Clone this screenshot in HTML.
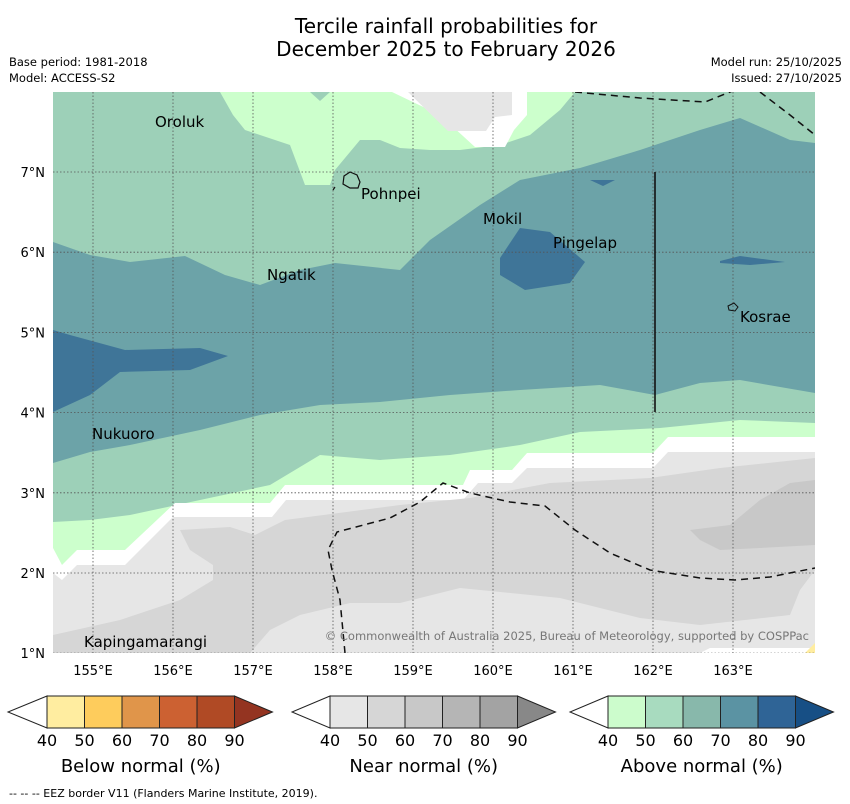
<!DOCTYPE html>
<html><head><meta charset="utf-8"><style>
body{margin:0;background:#fff;font-family:"Liberation Sans","DejaVu Sans",sans-serif}
svg{display:block}
</style></head><body>
<svg id="chart" width="850" height="804" viewBox="0 0 850 804" font-family="DejaVu Sans, Liberation Sans, sans-serif">
<rect width="850" height="804" fill="#fff"/>
<text x="446" y="33" font-size="20" text-anchor="middle">Tercile rainfall probabilities for</text>
<text x="446" y="56" font-size="20" text-anchor="middle">December 2025 to February 2026</text>
<text x="9" y="66" font-size="11.5">Base period: 1981-2018</text>
<text x="9" y="82" font-size="11.5">Model: ACCESS-S2</text>
<text x="842" y="66" font-size="11.5" text-anchor="end">Model run: 25/10/2025</text>
<text x="842" y="82" font-size="11.5" text-anchor="end">Issued: 27/10/2025</text>
<defs><clipPath id="mapclip"><rect x="53" y="92" width="762" height="561"/></clipPath></defs>
<g id="map" clip-path="url(#mapclip)">
<rect x="53" y="92" width="762" height="561" fill="#9dd0b8"/>
<path fill="#6ca3a8" d="M53,242 L90,255 130,262 185,256 225,275 260,285 300,270 335,263 400,270 430,240 480,205 520,180 580,168 640,150 700,130 740,118 790,140 815,143 L815,393 740,380 700,383 655,395 600,385 520,390 450,395 380,402 320,405 260,415 200,430 130,445 90,452 53,463Z"/>
<path fill="#3f7598" d="M53,330 L70,335 125,350 200,348 228,356 190,370 120,372 90,395 53,412Z"/>
<path fill="#3f7598" d="M520,228 L550,232 585,262 570,283 525,290 500,275 500,258Z"/>
<path fill="#3f7598" d="M590,180 L615,180 603,186Z"/>
<path fill="#3f7598" d="M720,261 L740,256 785,262 750,265 720,263Z"/>
<path fill="#ccffcc" d="M220,92 L575,92 560,110 530,135 500,145 460,150 430,150 400,148 380,140 360,140 335,170 330,185 305,185 290,145 260,135 245,130 233,115Z"/>
<path fill="#9dd0b8" d="M310,92 L330,92 320,101Z"/>
<path fill="#fff" d="M392,92 L527,92 527,115 514,130 505,147 475,147 440,115Z"/>
<path fill="#e6e6e6" d="M408,92 L512,92 512,115 495,117 486,131 448,131Z"/>
<path fill="#ccffcc" d="M53,522 L90,520 130,515 200,500 270,485 320,455 380,460 450,455 520,445 580,432 660,428 740,420 815,423 L815,653 53,653Z"/>
<path fill="#fff" d="M53,548 L62,565 77,550 125,550 175,503 270,503 285,485 463,485 470,470 512,470 527,453 653,453 668,437 815,437 L815,653 53,653Z"/>
<path fill="#e6e6e6" d="M53,573 L62,580 77,565 125,565 173,517 272,517 286,500 463,500 478,483 512,483 527,468 653,468 668,452 815,452 L815,653 53,653Z"/>
<path fill="#d6d6d6" d="M180,530 L230,527 255,535 285,520 400,505 470,498 550,483 650,478 720,468 815,458 L815,570 800,590 790,615 700,625 640,618 560,598 460,588 400,603 350,603 300,615 270,630 250,653 53,653 53,635 120,620 180,600 213,580 213,565 190,550Z"/>
<path fill="#c8c8c8" d="M690,530 L730,525 760,500 790,483 815,480 815,545 760,548 720,550 700,540Z"/>
<path fill="#fff" d="M700,653 L710,648 815,648 815,653Z"/>
<path fill="#ffeda0" d="M805,653 L815,643 815,653Z"/>
<g id="grid"></g>
<path fill="none" stroke="#111" stroke-width="1.5" stroke-dasharray="7,5" d="M575,92 L640,98 705,102 735,90 M760,92 L790,115 815,135"/>
<path fill="none" stroke="#111" stroke-width="1.5" stroke-dasharray="7,5" d="M345,653 L340,600 332,570 328,550 337,532 390,518 420,502 443,483 470,493 510,502 545,506 575,530 610,553 650,570 700,578 735,580 770,577 815,568"/>
<line x1="655" y1="172" x2="655" y2="412" stroke="#111" stroke-width="1.6"/>
<path fill="none" stroke="#111" stroke-width="1.2" d="M344,176 L350,172 357,175 360,182 358,188 350,188 343,184Z M333,190 L335,187"/>
<path fill="none" stroke="#111" stroke-width="1" d="M728,306 L734,303 738,307 735,311 729,310Z"/>
<g font-size="15" fill="#000">
<text x="155" y="127">Oroluk</text>
<text x="361" y="199">Pohnpei</text>
<text x="483" y="224">Mokil</text>
<text x="553" y="248">Pingelap</text>
<text x="267" y="280">Ngatik</text>
<text x="740" y="322">Kosrae</text>
<text x="92" y="439">Nukuoro</text>
<text x="84" y="647">Kapingamarangi</text>
</g>
<text x="809" y="640" font-size="11.5" fill="#777" text-anchor="end">© Commonwealth of Australia 2025, Bureau of Meteorology, supported by COSPPac</text>
</g>
<g id="ticks" font-size="13"></g>
<g id="cbars"></g>
<text x="9" y="797" font-size="11">--  --  -- EEZ border V11 (Flanders Marine Institute, 2019).</text>
</svg>
<script>
const lonTicks=[155,156,157,158,159,160,161,162,163];
const latTicks=[1,2,3,4,5,6,7];
const cbTicks=[40,50,60,70,80,90];
const belowColors=["#ffeda0","#fecc5c","#e0954a","#cc6132","#b04a25","#943421"];
const nearColors=["#e6e6e6","#d6d6d6","#c8c8c8","#b5b5b5","#a3a3a3","#888888"];
const aboveColors=["#ccfccc","#a8dbbf","#88b8ab","#5b93a3","#2f6496","#174f85"];
const cbTitles=["Below normal (%)","Near normal (%)","Above normal (%)"];
const NS="http://www.w3.org/2000/svg";
const xS=l=>93+(l-155)*80, yS=l=>172-(l-7)*80.2;
function mk(t,a,p){const e=document.createElementNS(NS,t);for(const k in a)e.setAttribute(k,a[k]);p.appendChild(e);return e;}
const grid=document.getElementById('grid'),ticks=document.getElementById('ticks');
lonTicks.forEach(l=>{
 const g=mk('line',{x1:xS(l),x2:xS(l),y1:92,y2:653,stroke:'#555','stroke-width':0.8,'stroke-dasharray':'1.5,2'},grid);
 
 
 const t=mk('text',{x:xS(l),y:675,'text-anchor':'middle'},ticks);t.textContent=l+'°E';
 
 
});
latTicks.forEach(l=>{
 const g=mk('line',{x1:53,x2:815,y1:yS(l),y2:yS(l),stroke:'#555','stroke-width':0.8,'stroke-dasharray':'1.5,2'},grid);
 
 
 const t=mk('text',{x:45,y:yS(l)+5,'text-anchor':'end'},ticks);t.textContent=l+'°N';
 
 
});
const cb=document.getElementById('cbars');
const starts=[47,330,608],tips=[8,292,570];
[belowColors,nearColors,aboveColors].forEach((cols,i)=>{
 const x0=starts[i],w=37.5,y0=696,y1=728,ym=712;
 const tri=mk('path',{d:`M${x0},${y0} L${tips[i]},${ym} L${x0},${y1}Z`,fill:'#fff',stroke:'#222','stroke-width':1},cb);
 
 
 for(let k=0;k<5;k++){
  const r=mk('rect',{x:x0+k*w,y:y0,width:w,height:y1-y0,fill:cols[k],stroke:'#222','stroke-width':1},cb);
  
  
 }
 const xe=x0+5*w;
 const ar=mk('path',{d:`M${xe},${y0} L${xe+38},${ym} L${xe},${y1}Z`,fill:cols[5],stroke:'#222','stroke-width':1},cb);
 
 
 cbTicks.forEach((v,k)=>{
  const t=mk('text',{x:x0+k*w,y:746,'font-size':16,'text-anchor':'middle'},cb);t.textContent=v;
  
  
 });
 const tt=mk('text',{x:x0+2.5*w,y:772,'font-size':18,'text-anchor':'middle'},cb);tt.textContent=cbTitles[i];
 
 
});
</script>
</body></html>
